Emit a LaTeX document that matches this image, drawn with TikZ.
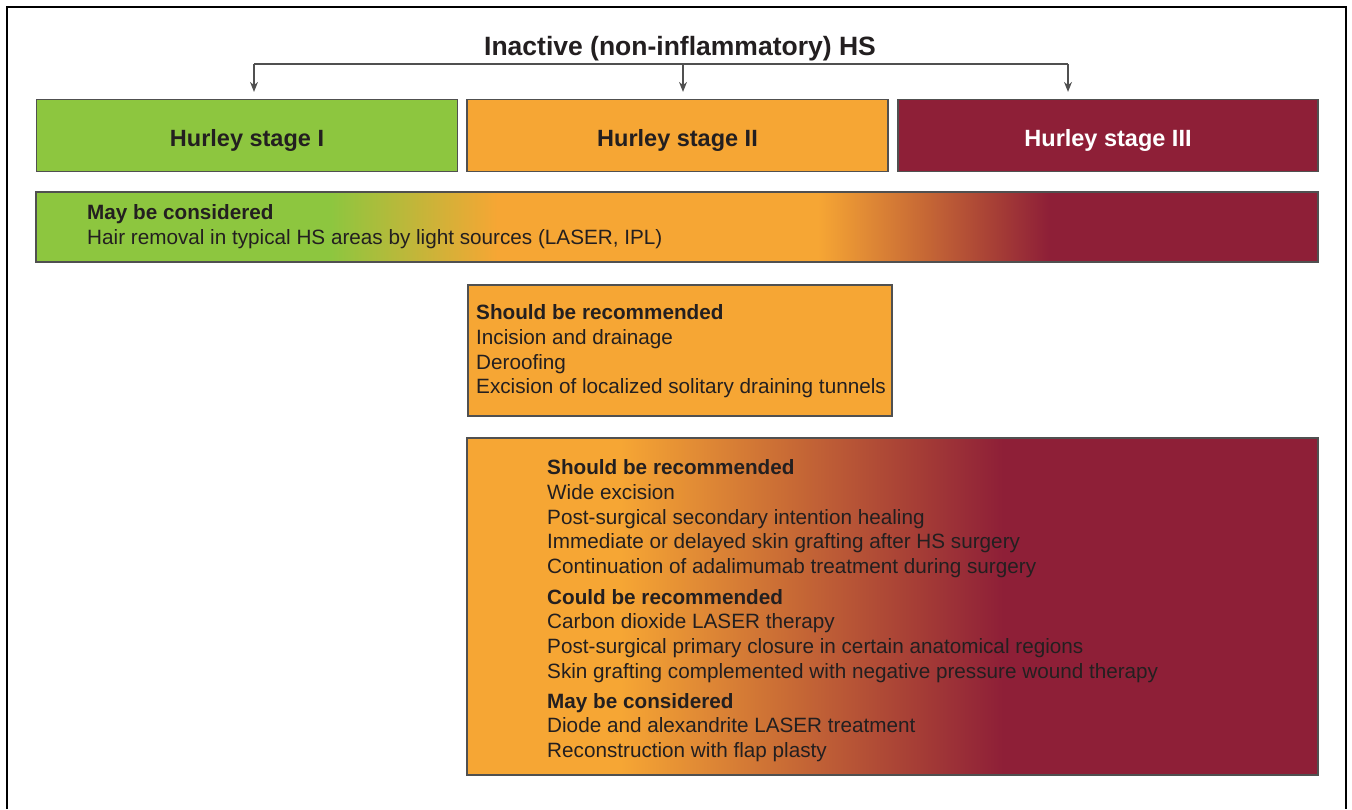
\documentclass[tikz,border=0pt]{standalone}
\usepackage{fontspec}
\setmainfont{Liberation Sans}
\usetikzlibrary{arrows.meta}
\definecolor{hsgreen}{RGB}{141,198,63}
\definecolor{hsorange}{RGB}{246,166,52}
\definecolor{hsmaroon}{RGB}{142,31,55}
\definecolor{hstext}{RGB}{35,31,32}
\definecolor{hsline}{RGB}{80,80,80}
\pgfdeclarehorizontalshading{barshade}{100bp}{color(0bp)=(hsgreen); color(36.5bp)=(hsgreen); color(43bp)=(hsorange); color(55.5bp)=(hsorange); color(64.5bp)=(hsmaroon); color(100bp)=(hsmaroon)}
\pgfdeclarehorizontalshading{boxshade}{100bp}{color(0bp)=(hsorange); color(34bp)=(hsorange); color(56.5bp)=(hsmaroon); color(100bp)=(hsmaroon)}
\tikzset{
  stagebox/.style={draw=hsline, line width=1.2pt, minimum width=421pt, minimum height=72pt, inner sep=0pt,
    text height=21pt, text depth=0pt, font=\fontsize{23.5pt}{27pt}\selectfont\bfseries, text=hstext},
  panel/.style={draw=hsline, line width=1.2pt, inner sep=0pt},
  bodytext/.style={font=\fontsize{20.7pt}{24.7pt}\selectfont, text=hstext, align=left, inner sep=0pt, anchor=north west},
  conn/.style={draw=hsline, line width=1.3pt},
}
\begin{document}
\begin{tikzpicture}[x=1pt, y=-1pt]
    \useasboundingbox (0,0) rectangle (1352,809);
    \draw[line width=2.5pt] (7,809) -- (7,7) -- (1346,7) -- (1346,809); % frame
    \node[anchor=base, font=\fontsize{26.5pt}{30pt}\selectfont\bfseries, text=hstext] (title) at (680,55) {Inactive (non-inflammatory) HS};
    \coordinate (brL) at (254,64);
    \coordinate (brM) at (683,64);
    \coordinate (brR) at (1068,64);
    \node[stagebox, fill=hsgreen] (s1) at (247,135.5) {Hurley stage I};
    \node[stagebox, fill=hsorange] (s2) at (677.5,135.5) {Hurley stage II};
    \node[stagebox, fill=hsmaroon, text=white, minimum width=420pt] (s3) at (1108,135.5) {Hurley stage III};
    \draw[conn] (brL) -- (brR);
    \draw[conn, -{Stealth[length=10pt, width=8pt]}, shorten >=7pt] (brL) -- (brL |- s1.north);
    \draw[conn, -{Stealth[length=10pt, width=8pt]}, shorten >=7pt] (brM) -- (brM |- s2.north);
    \draw[conn, -{Stealth[length=10pt, width=8pt]}, shorten >=7pt] (brR) -- (brR |- s3.north);
    % light sources, all stages
    \node[panel, shade, shading=barshade, minimum width=1282pt, minimum height=70pt] (bar) at (677,227) {};
    \node[bodytext] (bartext) at (87,204.5) {\textbf{May be considered}\\Hair removal in typical HS areas by light sources (LASER, IPL)};
    % stage II only
    \node[panel, fill=hsorange, minimum width=424pt, minimum height=131pt] (box2) at (680,350.5) {};
    \node[bodytext] (box2text) at (476,304.5) {\textbf{Should be recommended}\\Incision and drainage\\Deroofing\\Excision of localized solitary draining tunnels};
    % stages II and III
    \node[panel, shade, shading=boxshade, minimum width=851pt, minimum height=337pt] (box3) at (892.5,606.5) {};
    \node[bodytext] (box3text) at (547,459.5) {\textbf{Should be recommended}\\Wide excision\\Post-surgical secondary intention healing\\Immediate or delayed skin grafting after HS surgery\\Continuation of adalimumab treatment during surgery\\[5.8pt]
      \textbf{Could be recommended}\\Carbon dioxide LASER therapy\\Post-surgical primary closure in certain anatomical regions\\Skin grafting complemented with negative pressure wound therapy\\[5.3pt]
      \textbf{May be considered}\\Diode and alexandrite LASER treatment\\Reconstruction with flap plasty};
\end{tikzpicture}
\end{document}
